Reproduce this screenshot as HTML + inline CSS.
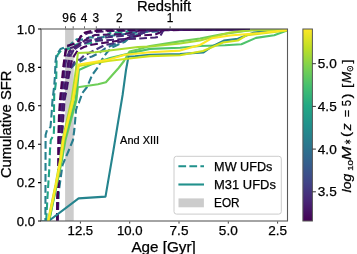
<!DOCTYPE html><html><head><meta charset="utf-8"><style>html,body{margin:0;padding:0;background:#fff;}svg{display:block;will-change:transform;}text{stroke:#000;stroke-width:0.25px;}</style></head><body>
<svg width="357" height="254" viewBox="0 0 357 254" font-family='"Liberation Sans", sans-serif'>
<defs><linearGradient id="vir" x1="0" y1="1" x2="0" y2="0">
<stop offset="0.00" stop-color="#440154"/>
<stop offset="0.10" stop-color="#482475"/>
<stop offset="0.20" stop-color="#414487"/>
<stop offset="0.30" stop-color="#355f8d"/>
<stop offset="0.40" stop-color="#2a788e"/>
<stop offset="0.50" stop-color="#21918c"/>
<stop offset="0.60" stop-color="#22a884"/>
<stop offset="0.70" stop-color="#44bf70"/>
<stop offset="0.80" stop-color="#7ad151"/>
<stop offset="0.90" stop-color="#bddf26"/>
<stop offset="1.00" stop-color="#fde725"/>
</linearGradient><clipPath id="pc"><rect x="41" y="29" width="246.5" height="192"/></clipPath></defs>
<rect width="357" height="254" fill="#fff"/>
<rect x="65.1" y="29" width="8.6" height="192" fill="#cccccc"/>
<g clip-path="url(#pc)" fill="none" stroke-linejoin="round">
<path d="M46.2,221.0 L47.3,200.0 L49.2,170.0 L50.0,150.0 L50.8,140.0 L53.7,135.0 L54.2,125.0 L54.0,110.0 L54.2,95.0 L55.2,88.0 L56.2,80.0 L56.6,60.0 L57.5,55.0 L61.0,50.5 L65.0,49.3 L70.0,48.5 L73.1,45.6 L76.7,44.4 L82.0,43.5 L89.0,43.5 L92.7,42.6 L100.0,40.0 L110.0,32.9 L125.0,32.0 L135.0,30.0 L250.0,29.1" stroke="#20a386" stroke-width="2.1" stroke-dasharray="7.7 3.3"/>
<path d="M41.0,221.3 L45.4,221.3 L45.6,135.0 L47.0,130.0 L50.5,127.0 L51.5,115.0 L52.5,100.0 L53.5,92.0 L54.3,85.0 L55.0,75.0 L55.5,62.0 L56.5,54.5 L58.5,52.0 L60.5,49.0 L64.0,47.8 L68.0,46.6 L72.0,43.0 L76.7,39.4 L83.0,39.6 L90.0,37.3 L101.0,37.6 L107.0,36.3 L125.0,34.0 L140.0,32.0 L160.0,31.5 L167.0,29.5 L250.0,29.1" stroke="#27808e" stroke-width="2.1" stroke-dasharray="7.7 3.3"/>
<path d="M57.5,221.0 L59.0,190.0 L62.5,165.0 L68.5,151.0 L73.0,140.0 L74.3,130.0 L75.2,120.0 L76.0,110.0 L77.5,105.0 L79.0,102.5 L82.4,92.9 L87.3,86.7 L92.1,75.0 L96.9,68.7 L102.2,59.2 L106.3,53.3 L110.9,48.1 L116.8,45.2 L125.0,41.7 L130.0,37.0 L140.0,34.0 L150.0,30.0 L250.0,29.1" stroke="#287d8e" stroke-width="2.1" stroke-dasharray="7.7 3.3"/>
<path d="M57.2,221.0 L57.6,200.0 L58.3,185.0 L59.5,165.0 L61.0,140.0 L62.6,115.0 L63.6,100.0 L66.0,88.0 L67.5,78.0 L70.0,69.0 L75.0,64.0 L85.7,58.6 L92.0,56.5 L98.7,53.3 L105.0,48.5 L115.0,44.0 L125.0,40.0 L135.0,36.5 L145.0,32.0 L150.0,30.0 L250.0,29.1" stroke="#2c738e" stroke-width="2.1" stroke-dasharray="7.7 3.3"/>
<path d="M57.2,221.0 L57.6,200.0 L58.3,185.0 L59.9,165.0 L61.8,140.0 L63.6,115.0 L64.6,100.0 L67.0,88.0 L69.0,75.0 L71.0,68.0 L74.3,62.1 L77.3,59.7 L79.8,59.8 L83.9,55.7 L95.0,50.0 L105.0,45.0 L120.0,42.0 L130.0,37.0 L140.0,34.0 L150.0,31.0 L160.0,29.5 L250.0,29.1" stroke="#463480" stroke-width="2.1" stroke-dasharray="7.7 3.3"/>
<path d="M57.2,221.0 L57.6,200.0 L58.3,185.0 L59.7,165.0 L61.3,140.0 L63.0,115.0 L64.0,100.0 L66.5,88.0 L68.5,75.0 L70.0,68.0 L71.4,62.0 L74.0,56.0 L78.0,50.0 L84.0,47.0 L90.0,45.0 L103.0,43.0 L120.0,40.5 L130.0,37.5 L140.0,35.5 L155.0,34.5 L160.0,32.5 L164.0,29.5 L250.0,29.1" stroke="#46085c" stroke-width="2.1" stroke-dasharray="7.7 3.3"/>
<path d="M57.2,221.0 L57.6,200.0 L58.3,185.0 L59.4,165.0 L60.7,140.0 L62.2,115.0 L63.2,100.0 L65.5,88.0 L67.5,75.0 L69.2,64.0 L70.8,55.0 L73.7,50.0 L78.0,45.0 L82.0,41.5 L85.0,40.4 L103.6,40.4 L120.0,39.3 L140.0,38.5 L155.0,37.5 L160.0,36.5 L163.5,30.0 L250.0,29.1" stroke="#482475" stroke-width="2.1" stroke-dasharray="7.7 3.3"/>
<path d="M57.2,221.0 L57.6,200.0 L58.3,185.0 L59.1,165.0 L60.1,140.0 L61.4,115.0 L62.4,100.0 L64.5,88.0 L66.5,75.0 L68.0,64.0 L69.0,57.0 L69.0,52.0 L71.0,49.5 L76.0,47.5 L80.0,44.0 L84.0,41.0 L88.0,38.0 L95.0,35.0 L125.0,34.0 L135.0,31.5 L145.0,30.0 L250.0,29.1" stroke="#471365" stroke-width="2.1" stroke-dasharray="7.7 3.3"/>
<path d="M57.2,221.0 L57.6,200.0 L58.3,185.0 L58.9,165.0 L59.5,140.0 L60.6,115.0 L61.6,100.0 L63.0,88.0 L64.3,75.0 L65.5,64.0 L67.0,56.0 L70.0,52.0 L75.0,49.0 L81.0,45.0 L90.0,41.0 L100.0,38.0 L115.0,36.5 L130.0,35.0 L140.0,33.0 L150.0,30.0 L250.0,29.1" stroke="#472a7a" stroke-width="2.1" stroke-dasharray="7.7 3.3"/>
<path d="M57.2,221.0 L57.6,200.0 L58.3,185.0 L58.6,165.0 L58.9,140.0 L59.8,115.0 L60.8,100.0 L62.0,88.0 L63.3,75.0 L64.3,63.0 L65.0,55.0 L66.0,50.0 L70.4,48.0 L74.0,47.1 L77.0,45.0 L79.0,41.0 L80.5,36.5 L88.0,33.0 L95.0,32.0 L110.0,31.0 L250.0,29.1" stroke="#481d6f" stroke-width="2.1" stroke-dasharray="7.7 3.3"/>
<path d="M57.2,221.0 L57.6,200.0 L58.3,185.0 L58.3,165.0 L58.3,140.0 L59.0,115.0 L60.0,100.0 L61.0,90.0 L62.5,75.0 L63.5,65.0 L64.5,58.0 L65.5,52.0 L66.8,46.0 L72.0,44.5 L77.6,42.1 L79.5,38.5 L82.0,35.0 L85.0,32.5 L90.0,31.2 L100.0,30.5 L120.0,30.0 L250.0,29.1" stroke="#440154" stroke-width="2.1" stroke-dasharray="7.7 3.3"/>
<path d="M49.2,221.0 L56.7,185.0 L62.0,160.0 L65.5,140.0 L71.0,120.0 L76.5,100.0 L77.9,87.2 L98.0,84.2 L105.9,82.3 L118.6,68.0 L124.0,61.0 L129.5,51.5 L138.0,49.6 L150.0,46.0 L180.0,41.4 L200.0,38.5 L221.6,34.3 L245.0,31.0 L255.0,30.0 L287.0,29.8" stroke="#6ece58" stroke-width="2.1"/>
<path d="M49.0,221.0 L56.5,185.0 L61.5,160.0 L64.5,140.0 L70.0,120.0 L75.5,100.0 L77.5,85.0 L78.9,70.0 L91.0,64.5 L110.0,58.0 L129.0,53.5 L150.0,48.9 L180.0,47.7 L200.0,46.0 L225.0,45.2 L241.4,44.3 L256.0,37.9 L274.2,35.2 L287.0,30.6" stroke="#4ec36b" stroke-width="2.1"/>
<path d="M48.6,221.0 L78.6,198.4 L105.5,196.6 L113.5,150.0 L117.6,125.0 L122.6,95.0 L126.0,70.0 L128.5,56.5 L135.0,56.2 L150.0,54.8 L180.0,54.0 L203.6,52.4 L212.0,46.5 L223.8,40.6 L237.8,38.8 L254.1,32.5 L270.0,30.5 L287.0,29.5" stroke="#25848e" stroke-width="2.1"/>
<path d="M48.5,221.0 L56.0,185.0 L61.0,160.0 L63.8,140.0 L68.5,120.0 L73.5,100.0 L76.8,80.0 L78.5,66.0 L108.0,61.0 L138.0,57.5 L150.0,56.1 L180.0,55.2 L203.0,51.0 L223.0,42.5 L237.8,40.5 L246.9,35.2 L287.0,30.5" stroke="#d2e21b" stroke-width="2.1"/>
<path d="M48.0,221.0 L55.5,185.0 L60.0,160.0 L62.5,140.0 L67.0,120.0 L71.5,100.0 L74.5,80.0 L76.5,65.0 L77.9,53.0 L95.0,52.3 L138.0,47.0 L150.0,46.5 L180.0,43.5 L200.0,40.5 L230.0,32.5 L250.0,30.2 L287.0,29.6" stroke="#a8db34" stroke-width="2.1"/>
<path d="M48.3,221.0 L55.8,185.0 L60.5,160.0 L63.2,140.0 L68.0,120.0 L72.8,100.0 L76.0,80.0 L78.6,64.5 L108.0,59.8 L125.0,54.8 L150.0,52.3 L180.0,50.6 L200.0,45.0 L212.0,38.2 L230.0,35.5 L260.0,33.0 L287.0,30.0" stroke="#fde725" stroke-width="2.1"/>
</g>
<g fill="none" stroke="#000" stroke-width="1.1">
<rect x="41" y="29" width="246.5" height="192" stroke="#5a5a5a"/>
</g>
<path d="M96,29.3 L250,29.3" stroke="#2d0f4d" stroke-width="1.1"/>
<path d="M38,221.0 L41,221.0 M38,182.6 L41,182.6 M38,144.2 L41,144.2 M38,105.8 L41,105.8 M38,67.4 L41,67.4 M38,29.0 L41,29.0" stroke="#000" stroke-width="1.1"/>
<path d="M80.4,221.5 L80.4,223.6 M129.7,221.5 L129.7,223.6 M179.0,221.5 L179.0,223.6 M228.3,221.5 L228.3,223.6 M277.6,221.5 L277.6,223.6" stroke="#444" stroke-width="1"/>
<path d="M65.5,28.5 L65.5,26.3 M73.2,28.5 L73.2,26.3 M84.5,28.5 L84.5,26.3 M96.3,28.5 L96.3,26.3 M119.4,28.5 L119.4,26.3 M170.1,28.5 L170.1,26.3" stroke="#666" stroke-width="1"/>
<text x="35.1" y="225.7" font-size="12.6" text-anchor="end" textLength="18.3" lengthAdjust="spacingAndGlyphs">0.0</text>
<text x="35.1" y="187.3" font-size="12.6" text-anchor="end" textLength="18.3" lengthAdjust="spacingAndGlyphs">0.2</text>
<text x="35.1" y="148.9" font-size="12.6" text-anchor="end" textLength="18.3" lengthAdjust="spacingAndGlyphs">0.4</text>
<text x="35.1" y="110.5" font-size="12.6" text-anchor="end" textLength="18.3" lengthAdjust="spacingAndGlyphs">0.6</text>
<text x="35.1" y="72.1" font-size="12.6" text-anchor="end" textLength="18.3" lengthAdjust="spacingAndGlyphs">0.8</text>
<text x="35.1" y="33.7" font-size="12.6" text-anchor="end" textLength="18.3" lengthAdjust="spacingAndGlyphs">1.0</text>
<text x="80.4" y="235.2" font-size="12.6" text-anchor="middle" textLength="25.6" lengthAdjust="spacingAndGlyphs">12.5</text>
<text x="129.7" y="235.2" font-size="12.6" text-anchor="middle" textLength="25.6" lengthAdjust="spacingAndGlyphs">10.0</text>
<text x="179.0" y="235.2" font-size="12.6" text-anchor="middle" textLength="18.9" lengthAdjust="spacingAndGlyphs">7.5</text>
<text x="228.3" y="235.2" font-size="12.6" text-anchor="middle" textLength="18.9" lengthAdjust="spacingAndGlyphs">5.0</text>
<text x="277.6" y="235.2" font-size="12.6" text-anchor="middle" textLength="18.9" lengthAdjust="spacingAndGlyphs">2.5</text>
<text x="65.5" y="21.8" font-size="12.6" text-anchor="middle" textLength="6.6" lengthAdjust="spacingAndGlyphs">9</text>
<text x="72.7" y="21.8" font-size="12.6" text-anchor="middle" textLength="6.6" lengthAdjust="spacingAndGlyphs">6</text>
<text x="84.0" y="21.8" font-size="12.6" text-anchor="middle" textLength="6.6" lengthAdjust="spacingAndGlyphs">4</text>
<text x="95.9" y="21.8" font-size="12.6" text-anchor="middle" textLength="6.6" lengthAdjust="spacingAndGlyphs">3</text>
<text x="119.4" y="21.8" font-size="12.6" text-anchor="middle" textLength="6.6" lengthAdjust="spacingAndGlyphs">2</text>
<text x="170.1" y="21.8" font-size="12.6" text-anchor="middle" textLength="6.6" lengthAdjust="spacingAndGlyphs">1</text>
<text x="164.05" y="10.8" font-size="14.3" text-anchor="middle" textLength="54.3" lengthAdjust="spacingAndGlyphs">Redshift</text>
<text x="163.6" y="251.5" font-size="14.3" text-anchor="middle" textLength="64.4" lengthAdjust="spacingAndGlyphs">Age [Gyr]</text>
<text transform="translate(10.8,124.3) rotate(-90)" x="0" y="0" font-size="14.6" text-anchor="middle" textLength="107.6" lengthAdjust="spacingAndGlyphs">Cumulative SFR</text>
<text x="120.1" y="144.4" font-size="10.2" style="stroke-width:0.2px" textLength="39" lengthAdjust="spacingAndGlyphs">And XIII</text>
<rect x="174" y="156.3" width="107.3" height="57.8" rx="2.5" fill="#fff" fill-opacity="0.8" stroke="#cccccc" stroke-width="1"/>
<path d="M178.4,166.2 L204,166.2" stroke="#21918c" stroke-width="2.1" stroke-dasharray="7.7 3.3"/>
<path d="M178.4,184.5 L204,184.5" stroke="#21918c" stroke-width="2.1"/>
<rect x="178.5" y="198.4" width="25.4" height="8.9" fill="#cccccc"/>
<text x="214.1" y="170.9" font-size="13" textLength="58.3" lengthAdjust="spacingAndGlyphs">MW UFDs</text>
<text x="214.1" y="189.3" font-size="13" textLength="61.8" lengthAdjust="spacingAndGlyphs">M31 UFDs</text>
<text x="214.1" y="207.4" font-size="13" textLength="25.5" lengthAdjust="spacingAndGlyphs">EOR</text>
<rect x="302.9" y="29" width="9.5" height="192" fill="url(#vir)" stroke="#555" stroke-width="1"/>
<text x="317.8" y="196.2" font-size="12.6" textLength="18.9" lengthAdjust="spacingAndGlyphs">3.5</text>
<text x="317.8" y="153.5" font-size="12.6" textLength="18.9" lengthAdjust="spacingAndGlyphs">4.0</text>
<text x="317.8" y="110.8" font-size="12.6" textLength="18.9" lengthAdjust="spacingAndGlyphs">4.5</text>
<text x="317.8" y="68.1" font-size="12.6" textLength="18.9" lengthAdjust="spacingAndGlyphs">5.0</text>
<path d="M312.4,191.8 L315.9,191.8 M312.4,149.1 L315.9,149.1 M312.4,106.4 L315.9,106.4 M312.4,63.7 L315.9,63.7" stroke="#333" stroke-width="1"/>
<g transform="translate(351.2,0) rotate(-90)">
<text x="-192.4" y="0.0" font-size="13.3" font-style="italic" textLength="18.5" lengthAdjust="spacingAndGlyphs">log</text>
<text x="-170.8" y="1.6" font-size="8.0" textLength="10.8" lengthAdjust="spacingAndGlyphs">10</text>
<text x="-160.0" y="0.0" font-size="13.3" font-style="italic" textLength="13.5" lengthAdjust="spacingAndGlyphs">M</text>
<text x="-145.3" y="0.0" font-size="9.5" textLength="5.8" lengthAdjust="spacingAndGlyphs">∗</text>
<text x="-137.0" y="-0.8" font-size="13.3" textLength="5.0" lengthAdjust="spacingAndGlyphs">(</text>
<text x="-130.5" y="0.0" font-size="13.3" font-style="italic" textLength="7.0" lengthAdjust="spacingAndGlyphs">z</text>
<text x="-117.2" y="0.0" font-size="13.3" textLength="7.4" lengthAdjust="spacingAndGlyphs">=</text>
<text x="-106.2" y="0.0" font-size="13.3" textLength="6.2" lengthAdjust="spacingAndGlyphs">5</text>
<text x="-98.6" y="0.0" font-size="13.3" textLength="5.0" lengthAdjust="spacingAndGlyphs">)</text>
<text x="-88.0" y="0.0" font-size="13.3" textLength="4.2" lengthAdjust="spacingAndGlyphs">[</text>
<text x="-83.0" y="0.0" font-size="13.3" font-style="italic" textLength="11.2" lengthAdjust="spacingAndGlyphs">M</text>
<text x="-72.0" y="2.2" font-size="9.3" textLength="7.0" lengthAdjust="spacingAndGlyphs">⊙</text>
<text x="-63.4" y="0.0" font-size="13.3" textLength="4.2" lengthAdjust="spacingAndGlyphs">]</text>
</g>
</svg></body></html>
